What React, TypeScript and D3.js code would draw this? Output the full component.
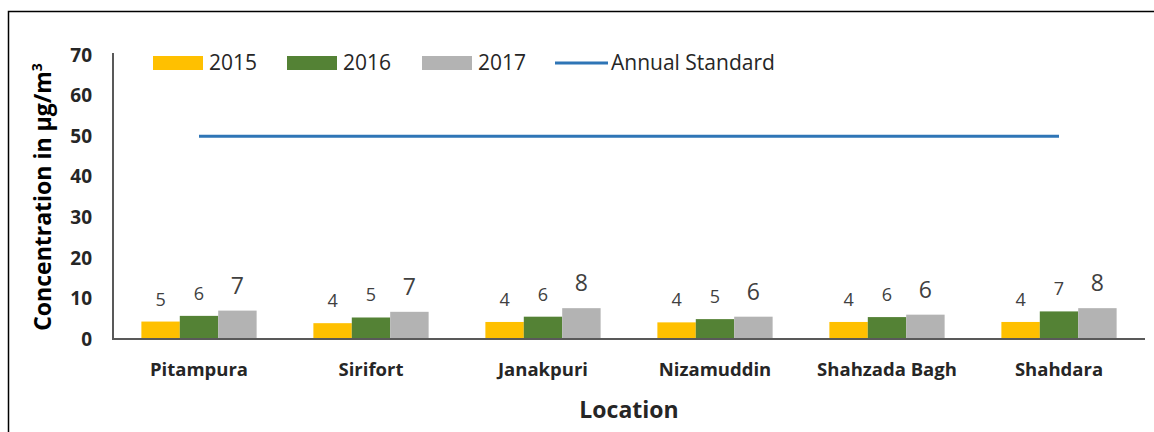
import React from "react";
import * as d3 from "d3";

const locations = ["Pitampura", "Sirifort", "Janakpuri", "Nizamuddin", "Shahzada Bagh", "Shahdara"];
const years = ["2015", "2016", "2017"];
const values2015 = [4.3, 3.9, 4.2, 4.1, 4.2, 4.2];
const values2016 = [5.7, 5.3, 5.5, 4.9, 5.4, 6.8];
const values2017 = [7.0, 6.7, 7.6, 5.5, 6.0, 7.6];
const labels2015 = ["5", "4", "4", "4", "4", "4"];
const labels2016 = ["6", "5", "6", "5", "6", "7"];
const labels2017 = ["7", "7", "8", "6", "6", "8"];
const annualStandard = 50;
const yTicks = [0, 10, 20, 30, 40, 50, 60, 70];

const colors = ["#FFC000", "#548235", "#B3B3B3"];
const lineColor = "#2E75B6";
const font = "'Open Sans', 'Noto Sans', sans-serif";

export default function App() {
  const W = 1154, H = 432;
  const left = 113, right = 1145, top = 55, bottom = 339;
  const x = d3.scaleBand<string>().domain(locations).range([left, right]).paddingInner(0.33).paddingOuter(0.165);
  const sub = d3.scaleBand<string>().domain(years).range([0, x.bandwidth()]);
  const y = d3.scaleLinear().domain([0, 70]).range([bottom, top]);
  const series = [values2015, values2016, values2017];
  const labels = [labels2015, labels2016, labels2017];
  const centerX = (loc: string) => (x(loc) as number) + x.bandwidth() / 2;

  const legendItems = [
    { label: "2015", x: 153, type: "rect", color: colors[0] },
    { label: "2016", x: 287, type: "rect", color: colors[1] },
    { label: "2017", x: 422, type: "rect", color: colors[2] },
    { label: "Annual Standard", x: 555, type: "line", color: lineColor },
  ];

  const line = d3.line<string>().x((d) => centerX(d)).y(() => y(annualStandard));

  return (
    <svg width={W} height={H} style={{ position: "absolute", left: 0, top: 0, background: "#fff" }} fontFamily={font}>
      <rect x={8.5} y={11.5} width={1200} height={500} fill="#fff" stroke="#000" strokeWidth={1.5} />
      {/* y ticks */}
      {yTicks.map((t) => (
        <text key={t} x={92} y={y(t)} dy="0.35em" textAnchor="end" fontSize={19} fontWeight="bold" fill="#262626">
          {t}
        </text>
      ))}
      {/* bars */}
      {series.map((vals, si) =>
        locations.map((loc, i) => (
          <rect
            key={`${si}-${i}`}
            x={(x(loc) as number) + (sub(years[si]) as number)}
            y={y(vals[i])}
            width={sub.bandwidth()}
            height={y(0) - y(vals[i])}
            fill={colors[si]}
          />
        ))
      )}
      {/* data labels */}
      {series.map((vals, si) =>
        locations.map((loc, i) => (
          <text
            key={`l${si}-${i}`}
            x={(x(loc) as number) + (sub(years[si]) as number) + sub.bandwidth() / 2}
            y={y(vals[i]) - (si === 2 ? 17 : 16)}
            textAnchor="middle"
            fontSize={si === 2 ? 23 : 18}
            fontWeight={500}
            fill="#404040"
          >
            {labels[si][i]}
          </text>
        ))
      )}
      {/* axes */}
      <line x1={113} x2={113} y1={53} y2={bottom + 1} stroke="#595959" strokeWidth={2} />
      <line x1={113} x2={right} y1={bottom} y2={bottom} stroke="#595959" strokeWidth={2} />
      {/* annual standard */}
      <path d={line([locations[0], locations[locations.length - 1]]) || ""} stroke={lineColor} strokeWidth={3} fill="none" />
      {/* category labels */}
      {locations.map((loc) => (
        <text key={loc} x={centerX(loc)} y={376} textAnchor="middle" fontSize={18.5} fontWeight="bold" fill="#262626">
          {loc}
        </text>
      ))}
      <text x={(left + right) / 2} y={418} textAnchor="middle" fontSize={23} fontWeight="bold" fill="#262626">
        Location
      </text>
      <text transform={`translate(51, ${(top + bottom) / 2}) rotate(-90)`} textAnchor="middle" fontSize={23} fontWeight="bold" fill="#000">
        Concentration in µg/m<tspan dy={-9} fontSize={14}>3</tspan>
      </text>
      {/* legend */}
      {legendItems.map((it) => (
        <g key={it.label}>
          {it.type === "rect" ? (
            <rect x={it.x} y={56} width={50} height={14} fill={it.color} />
          ) : (
            <line x1={it.x} x2={it.x + 53} y1={63} y2={63} stroke={it.color} strokeWidth={3} />
          )}
          <text x={it.x + 56} y={63} dy="0.35em" fontSize={21} fill="#262626">
            {it.label}
          </text>
        </g>
      ))}
    </svg>
  );
}
